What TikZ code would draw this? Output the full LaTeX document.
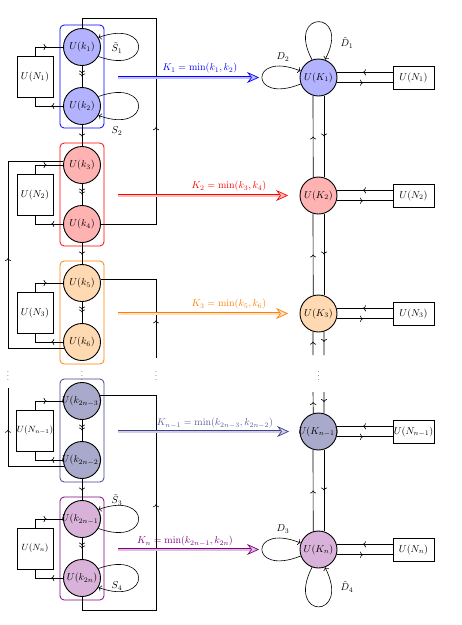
\documentclass[tikz,border=0pt]{standalone}
\usetikzlibrary{arrows.meta,decorations.markings,calc,fit}
\definecolor{nv}{rgb}{0.25,0.25,0.55}
\definecolor{nvt}{rgb}{0.35,0.35,0.62}
\newcommand\ctext[1]{\makebox[0pt]{$#1$}}
\begin{document}
\begin{tikzpicture}[x=1pt,y=-1pt,line width=0.6pt,
  kc/.style={circle,draw,line width=0.9pt,minimum size=37pt,inner sep=0pt,fill=#1},
  frm/.style={draw=#1,rounded corners=4pt,line width=0.8pt,inner sep=3pt},
  lbox/.style={draw,line width=0.8pt,minimum width=36pt,minimum height=41pt,inner sep=0.5pt},
  rbox/.style={draw,line width=0.8pt,minimum width=41pt,minimum height=23pt,inner sep=0.5pt},
  midarr/.style={postaction={decorate,decoration={markings,mark=at position #1 with {\arrow{>}}}}},
  middbl/.style={postaction={decorate,decoration={markings,mark=at position #1 with {\arrow{>>}}}}},
  bigarr/.style={draw=#1,double=#1!25,double distance=2pt,line width=0.7pt,
    -{Stealth[length=12pt,width=11pt,inset=4pt,fill=#1!25]}},
  lab/.style={inner sep=1pt},
  dots/.style={font=\footnotesize,inner sep=0pt}]
\useasboundingbox (0,0) rectangle (462,625);

% ---------- left circles ----------
\node[kc=blue!30] (k1) at (82,47) {\ctext{U(k_1)}};
\node[kc=blue!30] (k2) at (82,106) {\ctext{U(k_2)}};
\node[kc=red!30] (k3) at (82,165) {\ctext{U(k_3)}};
\node[kc=red!30] (k4) at (82,224) {\ctext{U(k_4)}};
\node[kc=orange!30] (k5) at (82,283) {\ctext{U(k_5)}};
\node[kc=orange!30] (k6) at (82,342) {\ctext{U(k_6)}};
\node[kc=nv!45] (k7) at (82,401) {\ctext{U(k_{2n-3})}};
\node[kc=nv!45] (k8) at (82,460) {\ctext{U(k_{2n-2})}};
\node[kc=violet!30] (k9) at (82,519) {\ctext{U(k_{2n-1})}};
\node[kc=violet!30] (k10) at (82,578) {\ctext{U(k_{2n})}};

% ---------- frames ----------
\node[frm=blue,fit=(k1)(k2)] (f1) {};
\node[frm=red,fit=(k3)(k4)] (f2) {};
\node[frm=orange,fit=(k5)(k6)] (f3) {};
\node[frm=nv,fit=(k7)(k8)] (f4) {};
\node[frm=violet,fit=(k9)(k10)] (f5) {};

% ---------- left boxes ----------
\node[lbox] (b1) at (35,76.5) {$U(N_1)$};
\node[lbox] (b2) at (35,194.5) {$U(N_2)$};
\node[lbox] (b3) at (35,312.5) {$U(N_3)$};
\node[lbox,font=\small] (b4) at (35,430.5) {$U(N_{n-1})$};
\node[lbox,font=\small] (b5) at (35,548.5) {$U(N_n)$};

\draw[midarr=0.55] (b1.north) |- (k1.west);
\draw[midarr=0.32] (k2.west) -| (b1.south);
\draw[midarr=0.55] (b2.north) |- (k3.west);
\draw[midarr=0.32] (k4.west) -| (b2.south);
\draw[midarr=0.55] (b3.north) |- (k5.west);
\draw[midarr=0.32] (k6.west) -| (b3.south);
\draw[midarr=0.55] (b4.north) |- (k7.west);
\draw[midarr=0.32] (k8.west) -| (b4.south);
\draw[midarr=0.55] (b5.north) |- (k9.west);
\draw[midarr=0.32] (k10.west) -| (b5.south);

% ---------- chain ----------
\draw[middbl=0.5] (k1) -- (k2);
\draw[midarr=0.55] (k2) -- (k3);
\draw[middbl=0.5] (k3) -- (k4);
\draw[midarr=0.55] (k4) -- (k5);
\draw[middbl=0.5] (k5) -- (k6);
\draw[middbl=0.5] (k7) -- (k8);
\draw[midarr=0.55] (k8) -- (k9);
\draw[middbl=0.5] (k9) -- (k10);

% ---------- feedback lines ----------
\coordinate (t1) at (156,18);
\coordinate (t2) at (8,0);
\coordinate (t3) at (156,358);
\coordinate (t4) at (8,388);
\coordinate (t5) at (156,610);
\draw[midarr=0.44] (k4.east) -| (t1) -| (k1.north);
\draw[midarr=0.49] (k6.200) -| (t2 |- k3.168) -- (k3.168);
\draw[midarr=0.28] (t3) |- (k5.12);
\draw[midarr=0.69] (k8.200) -| (t4);
\draw[midarr=0.54] (k10.south) |- (t5) |- (k7.16);

% ---------- self loops left ----------
\draw[->] (k1.-30) .. controls (152,76) and (152,18) .. (k1.30);
\draw[->] (k2.30) .. controls (152,77) and (152,135) .. (k2.-30);
\draw[->] (k9.-30) .. controls (152,548) and (152,490) .. (k9.30);
\draw[->] (k10.30) .. controls (152,549) and (152,607) .. (k10.-30);
\node[lab] (ls1) at (117,48) {$\tilde S_1$};
\node[lab] (ls2) at (117,131) {$S_2$};
\node[lab] (ls3) at (117,500) {$\tilde S_3$};
\node[lab] (ls4) at (117,586) {$S_4$};

% ---------- right circles ----------
\node[kc=blue!30] (K1) at (318.5,77.5) {\ctext{U(K_1)}};
\node[kc=red!30] (K2) at (318.5,195.5) {\ctext{U(K_2)}};
\node[kc=orange!30] (K3) at (318.5,313.5) {\ctext{U(K_3)}};
\node[kc=nv!45] (K4) at (318.5,431.5) {\ctext{U(K_{n-1})}};
\node[kc=violet!30] (K5) at (318.5,549.5) {\ctext{U(K_n)}};

% ---------- right boxes ----------
\node[rbox] (R1) at (413.5,77.5) {$U(N_1)$};
\node[rbox] (R2) at (413.5,195.5) {$U(N_2)$};
\node[rbox] (R3) at (413.5,313.5) {$U(N_3)$};
\node[rbox] (R4) at (413.5,431.5) {$U(N_{n-1})$};
\node[rbox] (R5) at (413.5,549.5) {$U(N_n)$};
\foreach \i in {1,...,5}{
  \draw[midarr=0.53] (R\i.west |- K\i.16.8) -- (K\i.16.8);
  \draw[midarr=0.47] (K\i.-16.8) -- (R\i.west |- K\i.-16.8);
}

% ---------- right verticals ----------
\draw[midarr=0.5] (K2.106.8) -- (K1.253.2);
\draw[midarr=0.5] (K1.-73.2) -- (K2.73.2);
\draw[midarr=0.5] (K3.106.8) -- (K2.253.2);
\draw[midarr=0.5] (K2.-73.2) -- (K3.73.2);
\coordinate (v1) at (313,355);
\coordinate (v2) at (324,355);
\coordinate (v3) at (313,392);
\coordinate (v4) at (324,392);
\draw[midarr=0.57] (v1) -- (K3.253.2);
\draw[midarr=0.44] (K3.-73.2) -- (v2);
\draw[midarr=0.53] (K4.106.8) -- (v3);
\draw[midarr=0.47] (v4) -- (K4.73.2);
\draw[midarr=0.5] (K5.106.8) -- (K4.253.2);
\draw[midarr=0.5] (K4.-73.2) -- (K5.73.2);

% ---------- loops right ----------
\draw[->] (K1.110) .. controls (285,9) and (352,9) .. (K1.70);
\draw[->] (K1.200) .. controls (249,105) and (249,50) .. (K1.160);
\draw[->] (K5.200) .. controls (249,577) and (249,522) .. (K5.160);
\draw[->] (K5.250) .. controls (285,620) and (352,620) .. (K5.290);
\node[lab] (ld1) at (347,43) {$\tilde D_1$};
\node[lab] (ld2) at (283,57) {$D_2$};
\node[lab] (ld3) at (283,529) {$D_3$};
\node[lab] (ld4) at (347,587) {$\tilde D_4$};

% ---------- big arrows ----------
\coordinate (a1) at (118,77.5);
\coordinate (a2) at (118,195.5);
\coordinate (a3) at (118,313.5);
\coordinate (a4) at (118,431.5);
\coordinate (a5) at (118,549.5);
\draw[bigarr=blue] (a1) -- ([xshift=-40.5pt]K1.west);
\draw[bigarr=red] (a2) -- ([xshift=-11.5pt]K2.west);
\draw[bigarr=orange] (a3) -- ([xshift=-11.5pt]K3.west);
\draw[bigarr=nv] (a4) -- ([xshift=-10.5pt]K4.west);
\draw[bigarr=violet] (a5) -- ([xshift=-40.5pt]K5.west);
\node[lab,text=blue] (l1) at (200,68) {$K_1 = \min(k_1, k_2)$};
\node[lab,text=red] (l2) at (229,186) {$K_2 = \min(k_3, k_4)$};
\node[lab,text=orange] (l3) at (229,304) {$K_3 = \min(k_5, k_6)$};
\node[lab,text=nvt] (l4) at (215,423) {$K_{n-1} = \min(k_{2n-3}, k_{2n-2})$};
\node[lab,text=violet] (l5) at (185,541) {$K_n = \min(k_{2n-1}, k_{2n})$};

% ---------- dots ----------
\node[dots] (d1) at (8,373) {$\vdots$};
\node[dots] (d2) at (82,373) {$\vdots$};
\node[dots] (d3) at (156,373) {$\vdots$};
\node[dots] (d4) at (318.5,373) {$\vdots$};
\end{tikzpicture}
\end{document}
